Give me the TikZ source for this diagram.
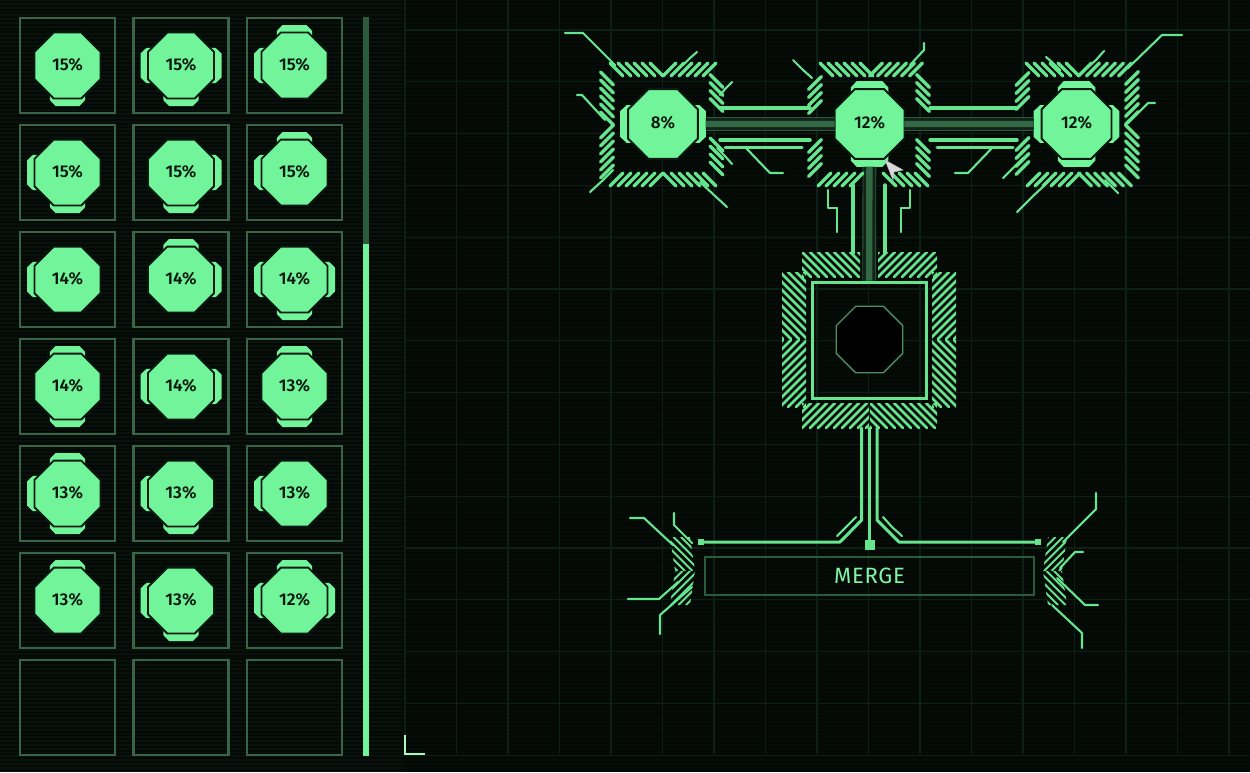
\documentclass[tikz,border=0pt]{standalone}
\usepackage{fontspec}
\setmainfont{Fira Sans}
\newfontfamily\chipfont{Fira Sans SemiBold}
\newfontfamily\mergefont[LetterSpace=3]{Fira Sans}
\usepackage{tikz}
\usetikzlibrary{
	positioning,
	shapes.geometric
}

\definecolor{boardbg}{HTML}{08110C}
\definecolor{scandark}{HTML}{040906}
\definecolor{gridgreen}{HTML}{0E1F15}
\definecolor{slotgreen}{HTML}{3A6447}
\definecolor{railgreen}{HTML}{2C5A3C}
\definecolor{chipgreen}{HTML}{72F59A}
\definecolor{wiregreen}{HTML}{66E58F}
\definecolor{inkdark}{HTML}{0A1A10}

\tikzset{
	chipcore/.style={regular polygon,regular polygon sides=8,fill=chipgreen,draw=inkdark,line width=1.1pt,inner sep=0pt,outer sep=0pt,text=inkdark,text height=7pt,text depth=1.5pt,font=\fontsize{9.7}{10}\chipfont},
	tabfill/.style={fill=chipgreen},
	slotbox/.style={draw=slotgreen,line width=1.2pt,minimum size=1.9cm,inner sep=0pt},
	hatchline/.style={draw=wiregreen,line width=1.9pt,line cap=round},
	wire/.style={draw=wiregreen,line width=2pt,line cap=round},
	trace/.style={draw=wiregreen,line width=1.2pt,line cap=round,line join=round},
	pinsquare/.style={fill=wiregreen,inner sep=0pt,minimum size=#1}
}

\newcommand{\chipnode}[6]{
	\edef\tablist{#5}
	\foreach \ang in \tablist {
		\fill[tabfill,shift={(#2,#3)},rotate=\ang,scale=#6]
			(-17.7,28) -- (-17.7,34.5) -- (-12,40.5) -- (12,40.5) -- (17.7,34.5) -- (17.7,28) -- cycle;
	}
	\node[chipcore,minimum size=#6*1.428cm] (#1) at (#2,#3) {#4};
}

\newcommand{\hatchrun}[7]{
	\foreach \i in {1,...,#5} {
		\draw[hatchline] ({#1+(\i-1)*#3-#7/2},{#2+(\i-1)*#4-#6*#7/2}) -- ++(#7,{#6*#7});
	}
}

\newcommand{\hatchblock}[8][]{
	\begin{scope}
		\clip (#2,#3) -- (#4,#3) -- ({#4+#8},#5) -- ({#2+#8},#5) -- cycle;
		\foreach \i in {0,...,30} {
			\draw[hatchline,#1] ({#2-(#5-#3)-15+\i*#7},{(#3+#5)/2-#6*(#5-#3)/2}) -- ++({#5-#3},{#6*(#5-#3)});
		}
	\end{scope}
}

\newcommand{\busband}[3][]{
	\draw[line width=7.8pt,draw=railgreen,#1] (#2) -- (#3);
	\draw[line width=6.8pt,draw=boardbg!75!railgreen,#1] (#2) -- (#3);
	\draw[line width=3.6pt,draw=railgreen!90!wiregreen,#1] (#2) -- (#3);
}

\begin{document}
\begin{tikzpicture}[x=0.02cm,y=-0.02cm]
	\useasboundingbox (0,0) rectangle (1250,772);
	\fill[boardbg] (0,0) rectangle (1250,772);
	\fill[black,opacity=0.35] (403,0) rectangle (1250,772);
	\foreach \y in {2,5.8,...,772} {
		\draw[scandark,line width=1.1pt] (0,\y) -- (1250,\y);
	}
	\foreach \x in {405,456.5,...,1250} {
		\draw[gridgreen,line width=0.7pt] (\x,0) -- (\x,754);
	}
	\foreach \y in {30,81.8,...,760} {
		\draw[gridgreen,line width=0.7pt] (405,\y) -- (1250,\y);
	}

	\foreach \row in {1,...,7} {
		\foreach \col in {1,2,3} {
			\node[slotbox] (slot\row\col) at ({67.5+113.5*(\col-1)},{65.5+107*(\row-1)}) {};
		}
	}
	\foreach \row/\col/\lab/\tabs in {
		1/1/15/{0},1/2/15/{0,90,270},1/3/15/{180,270},
		2/1/15/{0,270},2/2/15/{0,90},2/3/15/{180,270},
		3/1/14/{270},3/2/14/{90,180},3/3/14/{0,90,270},
		4/1/14/{0,180},4/2/14/{90,270},4/3/13/{0,180},
		5/1/13/{0,180,270},5/2/13/{0,270},5/3/13/{270},
		6/1/13/{180},6/2/13/{0,270},6/3/12/{90,180,270}} {
		\chipnode{chip\row\col}{{67.5+113.5*(\col-1)}}{{65.5+107*(\row-1)}}{\lab\%}{\tabs}{1}
	}

	\fill[railgreen] (363,17) rectangle (369,244);
	\fill[chipgreen] (363,244) rectangle (369,756);
	\draw[draw=chipgreen!60!white,line width=1.1pt] (405,735) -- (405,754) -- (425,754);

	\chipnode{chipa}{663}{124}{8\%}{90,270}{1.06}
	\chipnode{chipb}{869.5}{124}{12\%}{0,180}{1.06}
	\chipnode{chipc}{1076.5}{124}{12\%}{0,90,180,270}{1.06}

	\node[draw=wiregreen,line width=1.7pt,minimum width=114*0.02cm,minimum height=116*0.02cm,inner sep=0pt] (coreframe) at (869,340) {};
	\node[regular polygon,regular polygon sides=8,draw=slotgreen!70!chipgreen,fill=black,line width=0.8pt,minimum size=1.44cm,outer sep=0pt] (coreslot) at (869.5,339.5) {};

	\busband[shorten <=8*0.02cm]{chipa}{chipb}
	\busband[shorten >=8*0.02cm]{chipb}{chipc}
	\busband[shorten <=8*0.02cm]{chipb}{coreframe}

	\foreach \xa/\ya/\xb/\yb/\xc/\yc in {
		720/108/765/108/810/108, 720/140/765/140/810/140,
		930/108/975/108/1017/108, 930/140/975/140/1017/140,
		853/185/853/220/853/253, 885/185/885/220/885/253} {
		\draw[wire] (\xa,\ya) -- (\xb,\yb) -- (\xc,\yc);
	}
	\foreach \xa/\ya/\xb/\yb/\xc/\yc in {
		725/147/760/147/802/147, 937/147/980/147/1013/147} {
		\draw[wire,line width=1.7pt] (\xa,\ya) -- (\xb,\yb) -- (\xc,\yc);
	}

	\foreach \x/\y/\sl/\n in {
		616.5/69.5/1/6, 669.5/69.5/-1/6, 616.5/179.5/-1/6, 669.5/179.5/1/6,
		826.5/69.5/1/6, 876/69.5/-1/6, 824.5/179.5/-1/5, 889.5/179.5/1/5,
		1032.5/69.5/1/6, 1085/69.5/-1/6, 1033.5/179.5/-1/6, 1085/179.5/1/6} {
		\hatchrun{\x}{\y}{8}{0}{\n}{\sl}{13}
	}
	\foreach \x/\y/\sl/\n in {
		607/78.5/1/6, 607/131.5/-1/6, 716.5/81/1/4, 716.5/144.5/1/4,
		815/83/-1/4, 815/146/-1/4, 923/81/1/4, 923/146/1/4,
		1022.5/79/-1/4, 1022.5/144/-1/4, 1132/78/-1/6, 1132/131.5/1/6} {
		\hatchrun{\x}{\y}{0}{8}{\n}{\sl}{13}
	}

	\foreach \xa/\ya/\xb/\yb/\sl in {
		802/252/860/277/1, 878/252/937/277/-1, 802/403/869/428/-1, 870/403/937/428/1,
		782/272/806/339/1, 782/340/806/407/-1, 932/272/956/339/-1, 932/340/956/407/1} {
		\hatchblock[line width=1.5pt]{\xa}{\ya}{\xb}{\yb}{\sl}{8}{0}
	}

	\foreach \xa/\ya/\xb/\yb/\xc/\yc in {
		565/33/583/33/615/65, 577/95/582/95/605/120, 697/52/690/58/683/65,
		732/82/726/88/720/95, 732/164/725/156/717/148, 727/207/714/195/700/182,
		590/192/602/181/613/170, 745/147/770/173/783/173,
		793/60/802/69/812/78, 924/43/924/50/910/65,
		993/147/968/173/955/173, 1046/57/1053/63/1060/70, 1104/51/1096/60/1087/68,
		1182/35/1162/35/1128/68, 1155/103/1148/103/1128/123, 1118/193/1112/187/1105/180,
		1017/212/1032/197/1048/182, 1003/178/1013/168/1023/158,
		828/190/828/208/837/208, 910/190/910/208/901/208, 837/208/837/220/837/232, 901/208/901/220/901/232,
		630/518/644/518/673/545, 674/513/674/525/692/543, 628/599/659/599/678/582, 660/634/660/615/692/587,
		1096/493/1096/509/1063/542, 1083/552/1075/552/1060/568, 1098/605/1085/605/1057/578, 1082/648/1082/633/1052/605,
		856/517/846/527/837/536, 883/517/892/527/902/536} {
		\draw[trace] (\xa,\ya) -- (\xb,\yb) -- (\xc,\yc);
	}

	\hatchblock[line width=1.1pt]{670}{537}{690}{571}{1}{7.5}{5}
	\hatchblock[line width=1.1pt]{675}{571}{695}{605}{-1}{7.5}{-5}
	\hatchblock[line width=1.1pt]{1048}{537}{1067}{571}{-1}{7.5}{-5}
	\hatchblock[line width=1.1pt]{1043}{571}{1062}{605}{1}{7.5}{5}

	\node[pinsquare=10*0.02cm] (mergepin) at (869.5,545) {};
	\node[pinsquare=6*0.02cm] (mergeleft) at (701,542) {};
	\node[pinsquare=6*0.02cm] (mergeright) at (1038,542) {};
	\coordinate (outa) at (861.7,428);
	\coordinate (outb) at (869.5,428);
	\coordinate (outc) at (877,428);
	\coordinate (benda) at (861.7,520);
	\coordinate (bendb) at (840,542);
	\coordinate (bendc) at (877,520);
	\coordinate (bendd) at (899,542);
	\draw[wire,line width=1.7pt] (outb) -- (mergepin);
	\draw[wire,line width=1.7pt,line join=round] (outa) -- (benda) -- (bendb) -- (mergeleft);
	\draw[wire,line width=1.7pt,line join=round] (outc) -- (bendc) -- (bendd) -- (mergeright);

	\node[draw=railgreen,line width=1.4pt,minimum width=329*0.02cm,minimum height=38*0.02cm,inner sep=0pt,text=chipgreen!90!white,font=\fontsize{12.6}{13}\mergefont] (mergebar) at (869.5,576) {MERGE};

	\fill[gray!30,draw=gray!60,line width=0.3pt] (885,160) -- (903,170) -- (894,172) -- (893,180) -- cycle;
\end{tikzpicture}
\end{document}
